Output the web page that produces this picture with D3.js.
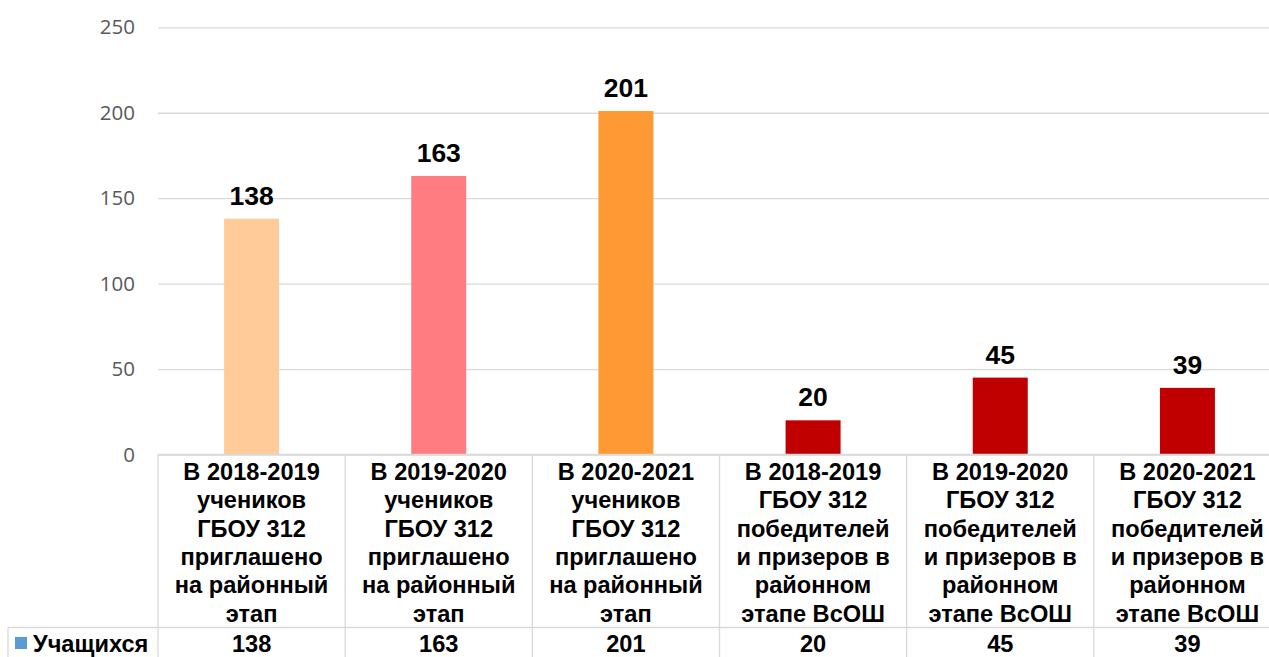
<!DOCTYPE html>
<html>
<head>
<meta charset="utf-8">
<script src="https://cdn.jsdelivr.net/npm/d3@7"></script>
<style>
  body { margin: 0; background: #fff; }
  svg { display: block; }
</style>
</head>
<body>
<svg id="chart" width="1269" height="657"></svg>
<script>
// data
const categories = [
  ["В 2018-2019", "учеников", "ГБОУ 312", "приглашено", "на районный", "этап"],
  ["В 2019-2020", "учеников", "ГБОУ 312", "приглашено", "на районный", "этап"],
  ["В 2020-2021", "учеников", "ГБОУ 312", "приглашено", "на районный", "этап"],
  ["В 2018-2019", "ГБОУ 312", "победителей", "и призеров в", "районном", "этапе ВсОШ"],
  ["В 2019-2020", "ГБОУ 312", "победителей", "и призеров в", "районном", "этапе ВсОШ"],
  ["В 2020-2021", "ГБОУ 312", "победителей", "и призеров в", "районном", "этапе ВсОШ"]
];
const values = [138, 163, 201, 20, 45, 39];
const barColors = ["#FFCC99", "#FF7C80", "#FF9933", "#C00000", "#C00000", "#C00000"];
const seriesName = "Учащихся";
const yTicks = [0, 50, 100, 150, 200, 250];

const svg = d3.select("#chart");
const gridColor = "#D9D9D9";

const x = d3.scaleBand().domain(d3.range(categories.length)).range([158, 1281]);
const y = d3.scaleLinear().domain([0, 250]).range([454.5, 27.3]);

// gridlines + y labels
const yAxis = svg.append("g")
  .attr("transform", "translate(158,0)")
  .call(d3.axisLeft(y).tickValues(yTicks).tickSize(-(1281 - 158)).tickPadding(23));
yAxis.select(".domain").remove();
yAxis.selectAll(".tick line").attr("stroke", gridColor).attr("stroke-width", 1.3);
yAxis.selectAll(".tick text")
  .attr("fill", "#595959")
  .style("font-family", "'Open Sans', sans-serif")
  .style("font-size", "20.5px");

// bars
const barW = 55;
svg.append("g").selectAll("rect")
  .data(values)
  .join("rect")
  .attr("x", (d, i) => x(i) + x.bandwidth() / 2 - barW / 2)
  .attr("y", d => y(d))
  .attr("width", barW)
  .attr("height", d => y(0) - y(d))
  .attr("fill", (d, i) => barColors[i]);

// data labels
svg.append("g").selectAll("text")
  .data(values)
  .join("text")
  .attr("x", (d, i) => x(i) + x.bandwidth() / 2)
  .attr("y", d => y(d) - 14)
  .attr("text-anchor", "middle")
  .style("font-family", "'Liberation Sans', Arial, sans-serif")
  .style("font-weight", "bold")
  .style("font-size", "26.5px")
  .attr("fill", "#000")
  .text(d => d);

// data table
const tbl = svg.append("g").attr("stroke", gridColor).attr("stroke-width", 1.3);
const topY = y(0), rowY = 627.5, botY = 660;
tbl.append("line").attr("x1", 158).attr("x2", 1281).attr("y1", topY).attr("y2", topY);
tbl.append("line").attr("x1", 8).attr("x2", 1281).attr("y1", rowY).attr("y2", rowY);
tbl.append("line").attr("x1", 8).attr("x2", 8).attr("y1", rowY).attr("y2", botY);
tbl.selectAll(".col")
  .data(d3.range(categories.length + 1))
  .join("line")
  .attr("class", "col")
  .attr("x1", i => i < categories.length ? x(i) : x.range()[1])
  .attr("x2", i => i < categories.length ? x(i) : x.range()[1])
  .attr("y1", topY).attr("y2", botY);

const txtFont = "'Liberation Sans', Arial, sans-serif";
const txtSize = "23.6px";
const head = svg.append("g");
categories.forEach((lines, i) => {
  head.append("text")
    .attr("text-anchor", "middle")
    .style("font-family", txtFont)
    .style("font-weight", "bold")
    .style("font-size", txtSize)
    .attr("fill", "#000")
    .selectAll("tspan")
    .data(lines)
    .join("tspan")
    .attr("x", x(i) + x.bandwidth() / 2)
    .attr("y", (d, j) => 480 + j * 28.3)
    .text(d => d);
});

svg.append("g").selectAll("text")
  .data(values)
  .join("text")
  .attr("x", (d, i) => x(i) + x.bandwidth() / 2)
  .attr("y", 652)
  .attr("text-anchor", "middle")
  .style("font-family", txtFont)
  .style("font-weight", "bold")
  .style("font-size", txtSize)
  .attr("fill", "#000")
  .text(d => d);

// legend key in table
svg.append("rect").attr("x", 15).attr("y", 637).attr("width", 12).attr("height", 12).attr("fill", "#5B9BD5");
svg.append("text")
  .attr("x", 33).attr("y", 652)
  .style("font-family", txtFont)
  .style("font-weight", "bold")
  .style("font-size", txtSize)
  .attr("fill", "#000")
  .text(seriesName);
</script>
</body>
</html>
